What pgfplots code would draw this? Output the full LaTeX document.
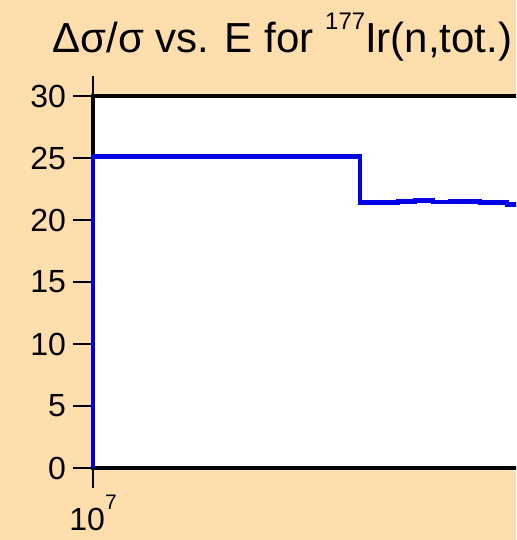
\documentclass[border=0pt]{standalone}
\usepackage{fontspec}
\setmainfont{Liberation Sans}
\usepackage{pgfplots}
\pgfplotsset{compat=1.18}
\definecolor{bg}{RGB}{255,222,173}
\definecolor{lineblue}{RGB}{0,0,230}
\begin{document}
\begin{tikzpicture}[x=1pt,y=1pt,font=\fontsize{16}{18}\selectfont]
\path[use as bounding box, fill=bg] (0,0) rectangle (258,270);
\clip (0,0) rectangle (258,270);
\node[anchor=base west,font=\fontsize{21}{24}\selectfont,inner sep=0pt] at (26,243.5) {Δσ/σ vs. E for \raisebox{11.5pt}{\fontsize{12}{14}\selectfont 177}Ir(n,tot.)};
\begin{axis}[
  at={(46.5pt,36pt)}, anchor=south west,
  scale only axis, width=400pt, height=186pt,
  xmode=log, xmin=1e7, xmax=1e8,
  ymin=0, ymax=30, ytick={0,5,...,30},
  xtick={1e7}, xticklabels={10\raisebox{10.5pt}{\fontsize{10.5}{12}\selectfont 7}},
  xminorticks=false,
  tick align=outside, major tick length=10pt,
  tick style={line width=1.4pt, black},
  axis line style={line width=2pt},
  axis background/.style={fill=white},
  every tick label/.append style={font=\fontsize{16}{18}\selectfont},
  /pgf/number format/assume math mode=true,
  clip=false,
]
\addplot[const plot, color=lineblue, line width=2.3pt] coordinates {
(1e7,0) (1e7,25.1) (2.157e7,21.4) (2.405e7,21.5) (2.526e7,21.56) (2.661e7,21.45) (2.794e7,21.5) (3.047e7,21.4) (3.293e7,21.27) (3.6e7,21.27)
};
\end{axis}
\end{tikzpicture}
\end{document}
